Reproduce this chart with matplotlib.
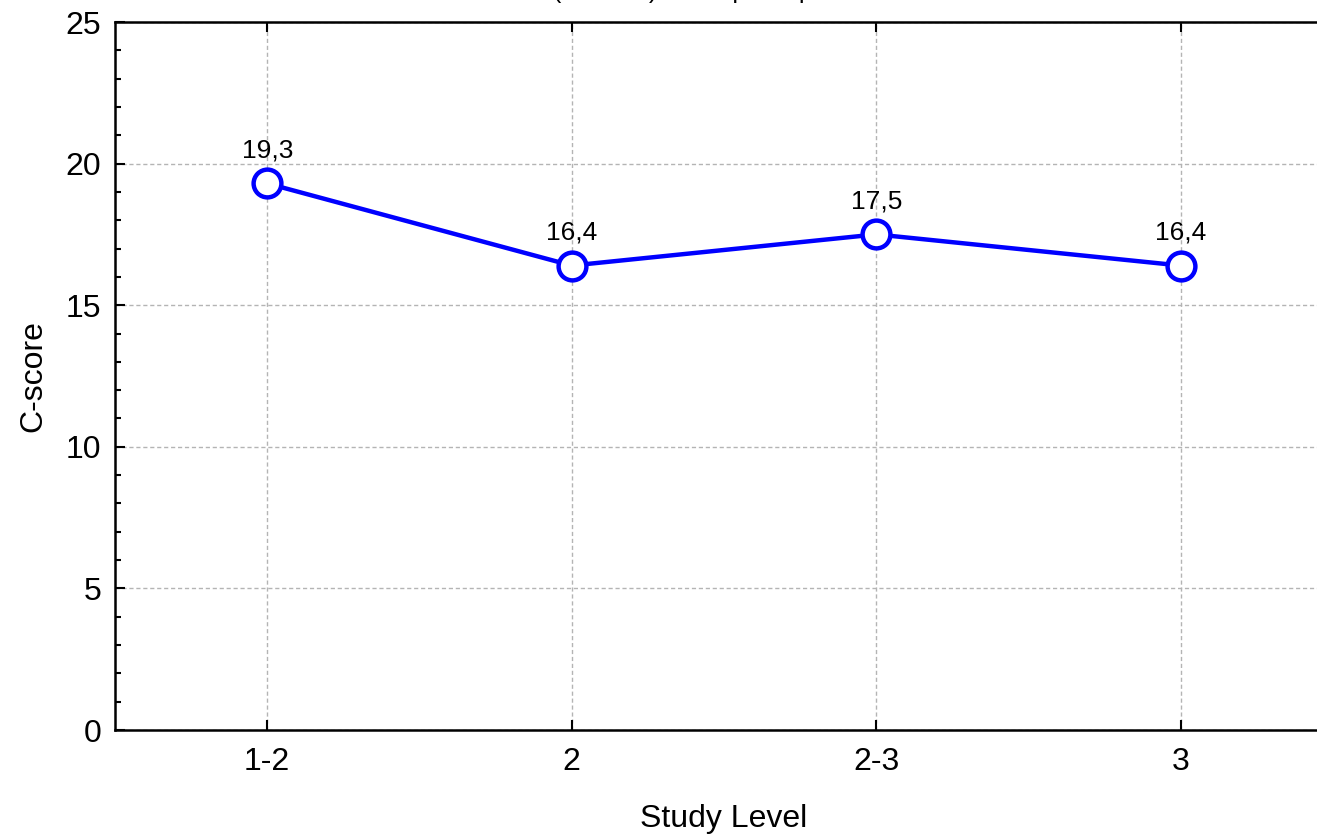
import matplotlib
matplotlib.use("Agg")
import matplotlib.pyplot as plt
from matplotlib.ticker import MultipleLocator

plt.rcParams['font.family'] = ['Liberation Sans', 'DejaVu Sans']

# data
levels = ['1-2', '2', '2-3', '3']
cscore = [19.3, 16.4, 17.5, 16.4]
point_labels = ['19,3', '16,4', '17,5', '16,4']

fig = plt.figure(figsize=(13.17, 8.35), dpi=100)
# axes runs past the right edge of the figure, as in the original
ax = fig.add_axes([115/1317, 105/835, 1218/1317, 708/835])

x = list(range(len(levels)))
ax.plot(x, cscore, color='#0000ff', lw=3.2, marker='o', ms=20,
        mfc='white', mec='#0000ff', mew=3.2, zorder=3, clip_on=False)

for xi, yi, lab in zip(x, cscore, point_labels):
    ax.annotate(lab, (xi, yi), xytext=(0, 15), textcoords='offset points',
                ha='center', va='bottom', fontsize=19)

ax.set_xlim(-0.5, 3.5)
ax.set_ylim(0, 25)
ax.set_xticks(x)
ax.set_xticklabels(levels)
ax.yaxis.set_major_locator(MultipleLocator(5))
ax.yaxis.set_minor_locator(MultipleLocator(1))

ax.grid(True, which='major', color='#b4b4b4', linestyle=(0, (3, 2)), lw=1)
ax.tick_params(axis='both', which='major', direction='in', length=7, width=1.5,
               labelsize=23, top=True, pad=12)
ax.tick_params(axis='y', which='minor', direction='in', length=4, width=1.5)
ax.tick_params(axis='y', which='major', pad=10)
for s in ax.spines.values():
    s.set_linewidth(1.8)

ax.set_xlabel('Study Level', fontsize=23, labelpad=20)
ax.set_ylabel('C-score', fontsize=23, labelpad=12)

# title sits almost entirely above the figure edge in the reference
fig.text(471/1317, 1.0 + 2/835, 'Means (C-score) in the participants',
         ha='left', va='baseline', fontsize=18)

fig.savefig('out.png', dpi=100)
